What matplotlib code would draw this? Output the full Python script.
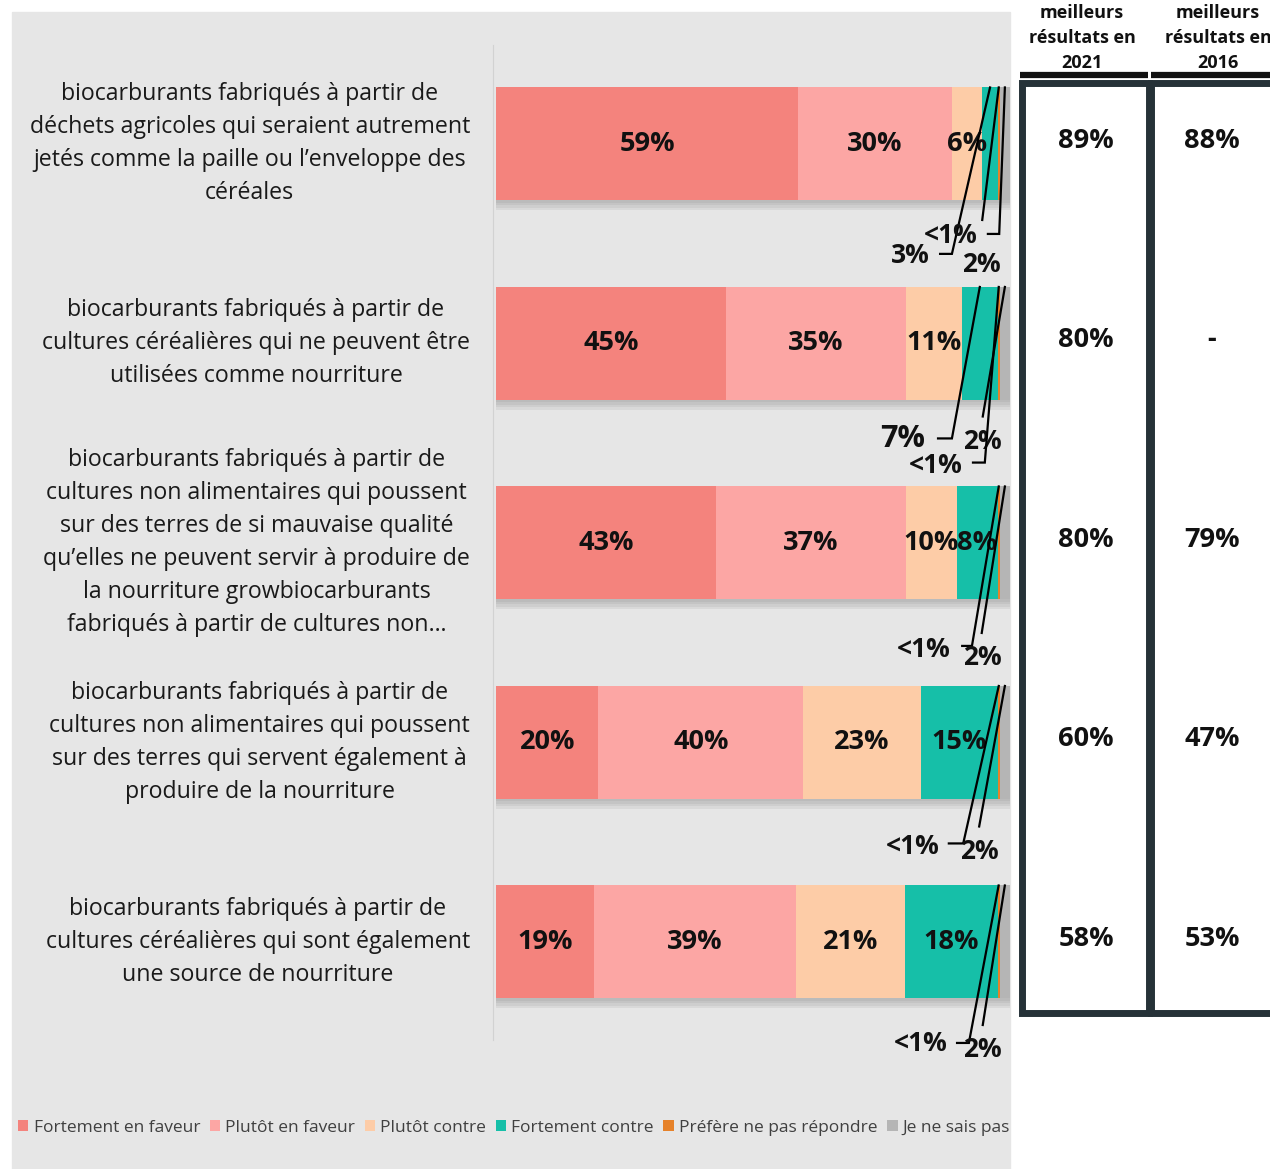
import numpy as np
import matplotlib
matplotlib.use('Agg')
import matplotlib.pyplot as plt
from matplotlib.patches import Rectangle, Patch
from matplotlib.lines import Line2D

categories = [
    "biocarburants fabriqués à partir de\ndéchets agricoles qui seraient autrement\njetés comme la paille ou l’enveloppe des\ncéréales",
    "biocarburants fabriqués à partir de\ncultures céréalières qui ne peuvent être\nutilisées comme nourriture",
    "biocarburants fabriqués à partir de\ncultures non alimentaires qui poussent\nsur des terres de si mauvaise qualité\nqu’elles ne peuvent servir à produire de\nla nourriture growbiocarburants\nfabriqués à partir de cultures non…",
    "biocarburants fabriqués à partir de\ncultures non alimentaires qui poussent\nsur des terres qui servent également à\nproduire de la nourriture",
    "biocarburants fabriqués à partir de\ncultures céréalières qui sont également\nune source de nourriture",
]
series_names = ['Fortement en faveur', 'Plutôt en faveur', 'Plutôt contre',
                'Fortement contre', 'Préfère ne pas répondre', 'Je ne sais pas']
fortement_faveur = [59, 45, 43, 20, 19]
plutot_faveur = [30, 35, 37, 40, 39]
plutot_contre = [6, 11, 10, 23, 21]
fortement_contre = [3, 7, 8, 15, 18]
prefere_pas = [0.4, 0.4, 0.4, 0.4, 0.4]   # "<1%"
ne_sais_pas = [2, 2, 2, 2, 2]
best_2021 = ['89%', '80%', '80%', '60%', '58%']
best_2016 = ['88%', '-', '79%', '47%', '53%']

colors = ['#F4837D', '#FCA6A4', '#FDCCA7', '#16BFA8', '#E6822A', '#B5B5B5']

# callouts for small segments: (row, series, label_x, label_dy, hook_from, hook_to, hook_dy, size)
callouts = [
    (0, 3, 80.7, 0.561, 86.4, 88.7, 0.551, 19),
    (0, 4, 88.5, 0.461, 94.6, 94.6, 0.381, 19),
    (0, 5, 94.4, 0.602, 95.7, 97.9, 0.451, 19),
    (1, 3, 79.2, 0.481, 86.0, 88.7, 0.476, 22),
    (1, 5, 94.7, 0.491, 94.7, 94.7, 0.366, 19),
    (1, 4, 85.6, 0.612, 92.8, 95.1, 0.597, 19),
    (2, 4, 83.3, 0.536, 90.7, 92.6, 0.516, 19),
    (2, 5, 94.7, 0.576, 94.5, 94.5, 0.451, 19),
    (3, 4, 81.1, 0.521, 88.1, 90.9, 0.506, 19),
    (3, 5, 94.0, 0.546, 94.0, 94.0, 0.421, 19),
    (4, 4, 82.7, 0.511, 89.7, 92.0, 0.506, 19),
    (4, 5, 94.6, 0.541, 94.7, 94.7, 0.416, 19),
]

W, H = 1270, 1169
ROW = 199.5
NUM = ['Open Sans', 'DejaVu Sans']
TXT = ['Open Sans', 'DejaVu Sans']


def fx(px):
    return px / W


def fy(py):
    return 1 - py / H


def prow(py):
    return -0.496 + (py - 45) / ROW


fig = plt.figure(figsize=(12.7, 11.69), dpi=100)
fig.add_artist(Rectangle((fx(12), 0), fx(1010) - fx(12), fy(12),
                         transform=fig.transFigure, color='#E6E6E6', zorder=-10))

ax = fig.add_axes([fx(496), fy(1040), fx(1010) - fx(496), (1040 - 45) / H])
ax.set_facecolor('none')
ax.set_xlim(0, 100)
ax.set_ylim(4 + (1040 - 942) / ROW, -0.496)
for s in ['top', 'right', 'bottom']:
    ax.spines[s].set_visible(False)
ax.spines['left'].set_color('#D2D2D2')
ax.spines['left'].set_position(('outward', 2))
ax.set_xticks([])
ax.set_yticks([])

data = np.array([fortement_faveur, plutot_faveur, plutot_contre,
                 fortement_contre, prefere_pas, ne_sais_pas], dtype=float)
shares = data / data.sum(axis=0) * 100
y = np.arange(len(categories))
bar_h = 113 / ROW

for off in [0.012, 0.024, 0.036, 0.048]:
    ax.barh(y + off, 100, height=bar_h, color='#707070', alpha=0.1, zorder=2)

left = np.zeros(len(categories))
starts = []
for k in range(len(series_names)):
    ax.barh(y, shares[k], left=left, height=bar_h, color=colors[k], zorder=3)
    starts.append(left.copy())
    left += shares[k]
starts = np.array(starts)


def fmt(v):
    return '<1%' if v < 1 else f'{v:.0f}%'


outside = {(c[0], c[1]) for c in callouts}
for k in range(len(series_names)):
    for i in range(len(categories)):
        if (i, k) in outside:
            continue
        ax.text(starts[k, i] + shares[k, i] / 2, y[i], fmt(data[k, i]),
                ha='center', va='center', fontsize=19.5, fontweight='bold',
                family=NUM, color='#111111', zorder=5)

for (i, k, lx, ldy, h0, h1, hdy, fs) in callouts:
    tx = starts[k, i] + shares[k, i] / 2
    ax.plot([h0, h1, tx], [i + hdy, i + hdy, i - bar_h / 2], color='black',
            lw=1.6, zorder=6, clip_on=False, solid_joinstyle='miter')
    ax.text(lx, i + ldy, fmt(data[k, i]), ha='center', va='center',
            fontsize=fs, fontweight='bold', family=NUM, color='#111111', zorder=6)

for i, cat in enumerate(categories):
    ax.text((470 - 496) / 5.14, y[i], cat, ha='right', va='center',
            multialignment='center', fontsize=16.7, linespacing=1.5,
            family=TXT, color='#1A1A1A')

# right-hand table
tax = fig.add_axes([fx(1010), fy(1040), fx(1270) - fx(1010), (1040 - 45) / H])
tax.set_xlim(1010, 1270)
tax.set_ylim(ax.get_ylim())
tax.axis('off')
for x0, w in [(1022, 127), (1151, 130)]:
    tax.add_patch(Rectangle((x0, prow(83)), w, prow(1013) - prow(83),
                            facecolor='white', edgecolor='#263238', lw=5,
                            clip_on=False))
for i in range(len(categories)):
    tax.text(1086, y[i] - 0.015, best_2021[i], ha='center', va='center',
             fontsize=19.5, fontweight='bold', family=NUM, color='#111111')
    tax.text(1212, y[i] - 0.015, best_2016[i], ha='center', va='center',
             fontsize=19.5, fontweight='bold', family=NUM, color='#111111')

for xa, xb in [(1020, 1148), (1151, 1272)]:
    fig.add_artist(Line2D([fx(xa), fx(xb)], [fy(75), fy(75)], color='#111111',
                          lw=4.5, transform=fig.transFigure, solid_capstyle='butt'))
for xc, yr in [(1082, '2021'), (1218, '2016')]:
    fig.text(fx(xc), fy(72), 'meilleurs\nrésultats en\n' + yr, ha='center',
             va='bottom', fontsize=13, fontweight='bold', family=NUM,
             linespacing=1.5, color='#111111')

handles = [Patch(facecolor=c, edgecolor='none') for c in colors]
fig.legend(handles, series_names, loc='center left',
           bbox_to_anchor=(fx(18), fy(1128)), ncol=6, frameon=False,
           prop={'family': TXT, 'size': 12.5}, labelcolor='#404040',
           handlelength=0.6, handleheight=0.6, handletextpad=0.3,
           columnspacing=0.55, borderpad=0, borderaxespad=0)

fig.savefig('out.png', dpi=100)
